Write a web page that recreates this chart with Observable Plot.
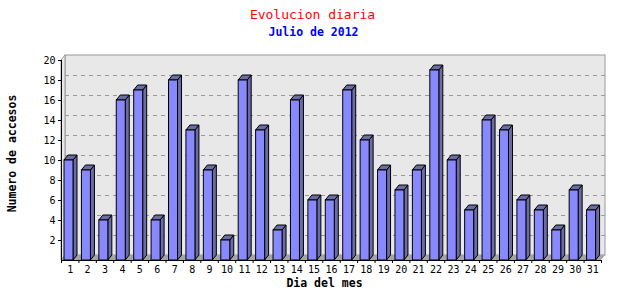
<!DOCTYPE html>
<html>
<head>
<meta charset="utf-8">
<script src="https://cdn.jsdelivr.net/npm/d3@7"></script>
<script src="https://cdn.jsdelivr.net/npm/@observablehq/plot@0.6"></script>
<style>
  html, body { margin: 0; padding: 0; background: #fff; }
  svg { display: block; }
</style>
</head>
<body>
<div id="chart"></div>
<script>
// ---- data ----
const title = "Evolucion diaria";
const subtitle = "Julio de 2012";
const xLabel = "Dia del mes";
const yLabel = "Numero de accesos";
const days = d3.range(1, 32);
const visits = [10, 9, 4, 16, 17, 4, 18, 13, 9, 2, 18, 13, 3, 16, 6, 6, 17, 12, 9, 7, 9, 19, 10, 5, 14, 13, 6, 5, 3, 7, 5];
const yTicks = [2, 4, 6, 8, 10, 12, 14, 16, 18, 20];
const gridValues = [2, 4, 6, 8, 10, 12, 14, 16, 18];

const data = days.map((day, i) => ({day, value: visits[i]}));

// ---- style ----
const DX = 4, DY = 5;             // 3D depth in pixels
const FRONT = "#8888ff", SIDE = "#6b6ba6";
const WALL = "#e8e8e8", FLOOR = "#a4a4a4", EDGE = "#9a9a9a";
const BAR_OFF = 3, BAR_W = 9;
const MONO = "'DejaVu Sans Mono', monospace";

// 3D parts (floor, side wall, bar sides & tops) drawn with Plot's scales
function floorAndSide(index, scales) {
  const {x, y} = scales;
  const g = d3.create("svg:g");
  const xa = x(0.5), xb = x(31.5), y0 = y(0), yt = y(20);
  g.append("path")
    .attr("d", `M${xa},${y0}L${xb},${y0}L${xb + DX},${y0 - DY}L${xa + DX},${y0 - DY}Z`)
    .attr("fill", FLOOR);
  g.append("path")
    .attr("d", `M${xa},${yt}L${xa + DX},${yt - DY}L${xa + DX},${y0 - DY}L${xa},${y0}Z`)
    .attr("fill", WALL).attr("stroke", EDGE);
  return g.node();
}

function barDepth(index, scales) {
  const {x, y} = scales;
  const g = d3.create("svg:g").attr("stroke", "black").attr("stroke-width", 1).attr("fill", SIDE);
  for (const d of data) {
    const x1 = x(d.day - 0.5) + BAR_OFF, x2 = x1 + BAR_W;
    const y0 = y(0), yv = y(d.value);
    g.append("path").attr("d",
      `M${x2},${yv}L${x2 + DX},${yv - DY}L${x2 + DX},${y0 - DY}L${x2},${y0}Z`);
    g.append("path").attr("d",
      `M${x1},${yv}L${x1 + DX},${yv - DY}L${x2 + DX},${yv - DY}L${x2},${yv}Z`);
  }
  return g.node();
}

const bandW = 540 / 31;

const plot = Plot.plot({
  width: 640,
  height: 300,
  marginLeft: 61,
  marginRight: 39,
  marginTop: 60,
  marginBottom: 40,
  style: {fontFamily: MONO, fontSize: "10px", color: "black", background: "white"},
  x: {type: "linear", domain: [0.5, 31.5], label: null},
  y: {type: "linear", domain: [0, 20], label: null},
  marks: [
    // back wall
    Plot.rect([0], {x1: () => 0.5, x2: () => 31.5, y1: () => 0, y2: () => 20,
      dx: DX, dy: -DY, fill: WALL, stroke: EDGE}),
    floorAndSide,
    // dashed grid on the back wall
    Plot.ruleY(gridValues, {x1: () => 0.5, x2: () => 31.5, dx: DX, dy: -DY,
      stroke: EDGE, strokeDasharray: "4,4"}),
    barDepth,
    // front faces
    Plot.rectY(data, {x1: d => d.day - 0.5, x2: d => d.day + 0.5, y: "value",
      insetLeft: BAR_OFF, insetRight: bandW - BAR_OFF - BAR_W,
      fill: FRONT, stroke: "black"}),
    // axes lines
    Plot.ruleX([0.5], {y1: () => 0, y2: () => 20, stroke: "black"}),
    Plot.ruleY([0], {x1: () => 0.5, x2: () => 31.5, stroke: "black"}),
    Plot.axisY({ticks: yTicks, tickSize: 3, tickPadding: 3, label: null, fill: "black"}),
    Plot.axisX({ticks: d3.range(0.5, 32, 1), tickSize: 3, tickFormat: () => "", label: null}),
    Plot.axisX({ticks: days, tickSize: 0, tickPadding: 5, label: null, fill: "black"}),
    // titles
    Plot.text([title], {frameAnchor: "top", textAnchor: "middle", lineAnchor: "middle",
      dx: -19, dy: -46, fill: "red", fontSize: 13, fontFamily: MONO}),
    Plot.text([subtitle], {frameAnchor: "top", textAnchor: "middle", lineAnchor: "middle",
      dx: -18, dy: -28.5, fill: "blue", fontSize: 11.5, fontWeight: "bold", fontFamily: MONO}),
    Plot.text([xLabel], {frameAnchor: "bottom", textAnchor: "middle", lineAnchor: "middle",
      dx: -7, dy: 22.5, fill: "black", fontSize: 11.5, fontWeight: "bold", fontFamily: MONO}),
    Plot.text([yLabel], {frameAnchor: "left", textAnchor: "middle", lineAnchor: "middle",
      dx: -49, dy: -7, rotate: -90, fill: "black", fontSize: 11.5, fontWeight: "bold", fontFamily: MONO})
  ]
});

document.getElementById("chart").appendChild(plot);
</script>
</body>
</html>
